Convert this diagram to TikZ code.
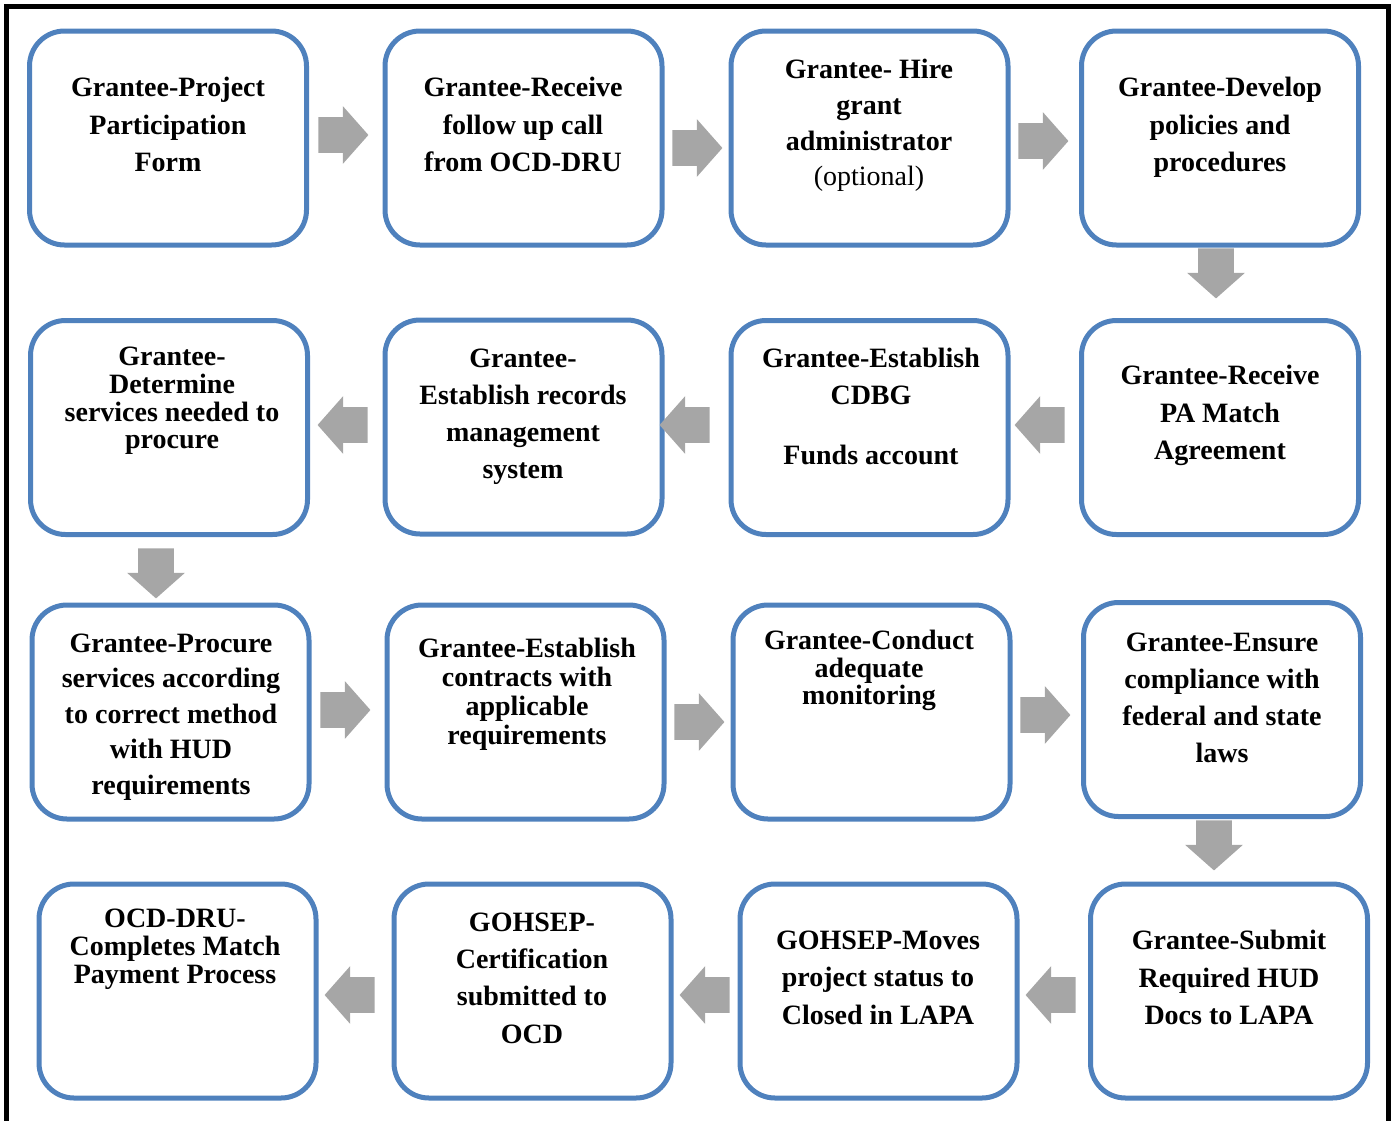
\documentclass[tikz,border=0pt]{standalone}
\usepackage{fontspec}
\setmainfont{Liberation Serif}
\usetikzlibrary{shapes.arrows}
\definecolor{boxblue}{HTML}{4F81BD}
\definecolor{arrowgray}{HTML}{A6A6A6}
\tikzset{
	box/.style={draw=boxblue, line width=2.5pt, rounded corners=17.5pt, minimum width=138.5pt, minimum height=107pt, inner sep=0pt, fill=white},
	txt/.style={align=center, inner sep=0pt, font=\bfseries\fontsize{14}{#1}\selectfont},
	txt/.default=18.75pt,
	blockarrow/.style={single arrow, fill=arrowgray, draw=none, inner xsep=0pt, inner ysep=8.75pt, minimum height=25pt, single arrow head extend=5.5pt, single arrow tip angle=97, anchor=tail}
}

\begin{document}
\begin{tikzpicture}[x=0.5pt, y=-0.5pt]
		%%%%% START %%%%%
		\useasboundingbox (0, 0) rectangle (1393, 1120);
		\draw[line width=2.5pt] (6.5, 6.5) rectangle (1388, 1135);
		
		% row 1
		\node[box] (partform) at (168, 138) {};
		\node[box] (followup) at (523.5, 138) {};
		\node[box] (hireadmin) at (869.5, 138) {};
		\node[box] (policies) at (1220, 138) {};
		
		\node[txt] (partformtxt) at (168, 124.5) {Grantee-Project\\Participation\\Form};
		\node[txt] (followuptxt) at (523, 124.5) {Grantee-Receive\\follow up call\\from OCD-DRU};
		\node[txt=17.8pt] (hireadmintxt) at (869, 125.5) {Grantee- Hire\\grant\\administrator\\\textmd{(optional)}};
		\node[txt] (policiestxt) at (1220, 127.5) {Grantee-Develop\\policies and\\procedures};
		
		% row 2
		\node[box] (determine) at (169, 427.5) {};
		\node[box] (records) at (523.5, 427) {};
		\node[box] (account) at (869.5, 427.5) {};
		\node[box] (pamatch) at (1220, 427.5) {};
		
		\node[txt=13.8pt] (determinetxt) at (172, 401) {Grantee-\\Determine\\services needed to\\procure};
		\node[txt=18.5pt] (recordstxt) at (523, 416.5) {Grantee-\\Establish records\\management\\system};
		\node[txt=18.5pt] (accounttxt) at (871, 406.5) {Grantee-Establish\\CDBG\\[11.5pt]Funds account};
		\node[txt] (pamatchtxt) at (1220, 415.5) {Grantee-Receive\\PA Match\\Agreement};
		
		% row 3
		\node[box] (procure) at (170.5, 712) {};
		\node[box] (contracts) at (525.5, 712) {};
		\node[box] (monitor) at (871.5, 712) {};
		\node[box] (comply) at (1222, 709.5) {};
		
		\node[txt=17.75pt] (procuretxt) at (171, 717) {Grantee-Procure\\services according\\to correct method\\with HUD\\requirements};
		\node[txt=14.5pt] (contractstxt) at (527, 694.5) {Grantee-Establish\\contracts with\\applicable\\requirements};
		\node[txt=13.75pt] (monitortxt) at (869, 670.5) {Grantee-Conduct\\adequate\\monitoring};
		\node[txt=18.5pt] (complytxt) at (1222, 697.5) {Grantee-Ensure\\compliance with\\federal and state\\laws};
		
		% row 4
		\node[box] (payment) at (177.5, 991) {};
		\node[box] (certif) at (532.5, 991) {};
		\node[box] (closed) at (878.5, 991) {};
		\node[box] (submitdocs) at (1229, 991) {};
		
		\node[txt=14pt] (paymenttxt) at (175, 949.5) {OCD-DRU-\\Completes Match\\Payment Process};
		\node[txt=18.65pt] (certiftxt) at (532, 978) {GOHSEP-\\Certification\\submitted to\\OCD};
		\node[txt] (closedtxt) at (878, 977.5) {GOHSEP-Moves\\project status to\\Closed in LAPA};
		\node[txt] (submitdocstxt) at (1229, 977.5) {Grantee-Submit\\Required HUD\\Docs to LAPA};
		
		% arrows
		\node[blockarrow] (ar1) at (318, 135) {};
		\node[blockarrow] (ar2) at (672, 148) {};
		\node[blockarrow] (ar3) at (1018, 141) {};
		\node[blockarrow, rotate=-90] (ar4) at (1216, 248) {};
		
		\node[blockarrow, rotate=180] (ar5) at (1065, 425) {};
		\node[blockarrow, rotate=180] (ar6) at (710, 425) {};
		\node[blockarrow, rotate=180] (ar7) at (368, 425) {};
		\node[blockarrow, rotate=-90] (ar8) at (156, 548) {};
		
		\node[blockarrow] (ar9) at (320, 710) {};
		\node[blockarrow] (ar10) at (674, 722) {};
		\node[blockarrow] (ar11) at (1020, 715) {};
		\node[blockarrow, rotate=-90] (ar12) at (1214, 820) {};
		
		\node[blockarrow, rotate=180] (ar13) at (1076, 995) {};
		\node[blockarrow, rotate=180] (ar14) at (730, 995) {};
		\node[blockarrow, rotate=180] (ar15) at (375, 995) {};
		%%%%% END %%%%%
	\end{tikzpicture}
\end{document}
